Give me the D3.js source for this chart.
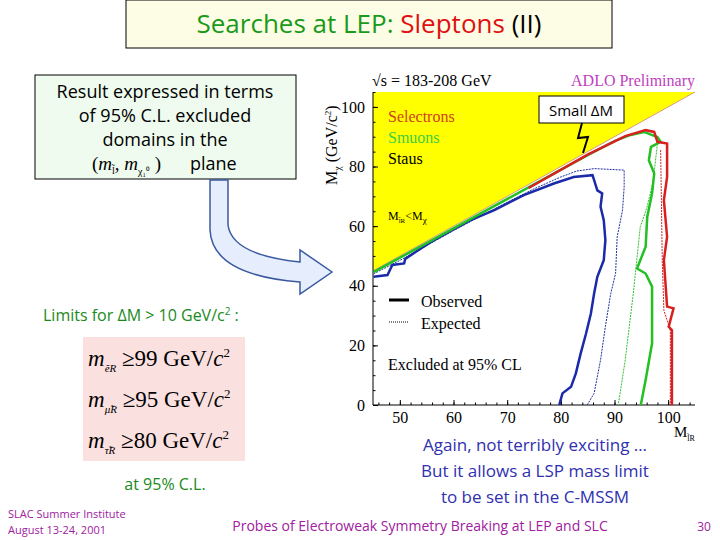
<!DOCTYPE html>
<html><head><meta charset="utf-8">
<script src="https://cdn.jsdelivr.net/npm/d3@7"></script>
<style>body{margin:0;background:#fff}svg{display:block}</style>
</head><body><svg id="c" width="720" height="540"></svg>
<script>
const xTicks=[50,60,70,80,90,100], yTicks=[0,20,40,60,80,100];
const diag=[[45,45],[105,105]];
const stauObs=[[45.1,43],[47.7,43.6],[48.6,47],[50.8,47.5],[51,49],[53,51.4],[55.8,54.7],[59.8,58.7],[63.2,62],[67.6,65.4],[73.1,70.4],[78.7,74.3],[82.4,76.5],[85.9,77.1],[86.2,75.4],[86.8,72],[87.7,71],[87.4,66.5],[88,62],[88.3,55.3],[88,48.6],[86.8,43],[86.2,37.4],[85.6,30.7],[84.7,24],[83.7,17.3],[82.8,10.6],[81.9,6.1],[80.3,3.9],[79.7,0]];
const stauExp=[[45.1,44],[50,48.5],[55,53.5],[60,58.5],[65,63.3],[70,68],[75,72.5],[80,76.5],[83,78.5],[86.2,79.3],[91.8,78.8],[91.8,73.2],[91.5,65.4],[90.5,56.4],[90.2,44.1],[89.3,37.4],[88.3,26.3],[87.4,15.1],[86.2,3.9],[84.9,0]];
const smuObs=[[45.1,44.6],[55,54.3],[65,64.2],[75,74],[85,83.8],[90,88.5],[93,90.6],[95.5,91.6],[98,89.9],[98.6,88.3],[96.8,86.6],[96.4,82.1],[97.4,77.7],[97,71],[96.1,63.1],[95.8,53.1],[94.2,45.8],[95.8,44.1],[97,39.7],[97,20.7],[95.8,8.4],[94.9,0]];
const smuExp=[[98,87.7],[97.2,75],[96,66],[94.8,59.8],[93.5,37.4],[92,15.1],[90.7,0]];
const selObs=[[74,72.8],[85,84],[92,90.2],[95.8,92.2],[97.4,91.6],[98,88.3],[99.8,87.7],[99.8,76.5],[99.2,68.7],[99.8,56.4],[99.2,48.6],[99.8,33],[101,32.4],[100.1,26.3],[100.7,25.1],[100.7,0]];
const selExp=[[98.6,85.5],[98.9,48.6],[99.2,31.8],[100.4,25.1],[100.4,0]];

const svg=d3.select("#c");
const x=d3.scaleLinear().domain([45,105]).range([373,695]);
const y=d3.scaleLinear().domain([0,105]).range([405,92]);
const line=d3.line().x(d=>x(d[0])).y(d=>y(d[1]));
const comic="'Comic Sans MS','Open Sans',sans-serif";
const serif="'Liberation Serif',serif";

svg.append("rect").attr("x",126).attr("y",0).attr("width",486).attr("height",48).attr("fill","#fdfde6").attr("stroke","#000");
const t=svg.append("text").attr("x",369).attr("y",33).attr("text-anchor","middle").attr("font-family",comic).attr("font-size",26);
t.append("tspan").attr("fill","#1a9a1a").text("Searches at LEP: ");
t.append("tspan").attr("fill","#e01010").text("Sleptons ");
t.append("tspan").attr("fill","#000").text("(II)");

svg.append("rect").attr("x",35).attr("y",75).attr("width",261).attr("height",104).attr("fill","#eefbee").attr("stroke","#000");
["Result expressed in terms","of 95% C.L. excluded","domains in the"].forEach((s,i)=>svg.append("text").attr("x",165).attr("y",98+i*24).attr("text-anchor","middle").attr("font-family",comic).attr("font-size",18).text(s));
const pl=svg.append("text").attr("x",92).attr("y",170).attr("font-family",serif).attr("font-size",19);
pl.append("tspan").text("(");pl.append("tspan").attr("font-style","italic").text("m");pl.append("tspan").attr("font-size",10).attr("dy",4).text("l̃");
pl.append("tspan").attr("dy",-4).text(", ");pl.append("tspan").attr("font-style","italic").text("m");pl.append("tspan").attr("font-size",10).attr("dy",5).text("χ₁⁰");
pl.append("tspan").attr("dy",-5).text(" )");
svg.append("text").attr("x",190).attr("y",170).attr("font-family",comic).attr("font-size",18).text("plane");

svg.append("path").attr("d","M210,180 L228,180 L228,225 Q232,255 300,262 L300,250 L332,272 L300,294 L300,282 Q212,275 210,230 Z").attr("fill","#e6edfc").attr("stroke","#3a5aa0").attr("stroke-width",1.5);

svg.append("path").attr("d",`M${x(45)},${y(45)}L${x(105)},${y(105)}L${x(45)},${y(105)}Z`).attr("fill","#ffff00");
svg.append("path").datum(diag).attr("d",line).attr("stroke","#d08080").attr("stroke-width",0.8).attr("fill","none");
svg.append("g").attr("transform","translate(0,405)").call(d3.axisBottom(x).tickValues(xTicks).tickSize(-5).tickPadding(7)).call(g=>g.select(".domain").remove()).call(g=>g.selectAll("text").attr("font-family",serif).attr("font-size",16));
svg.append("g").attr("transform","translate(373,0)").call(d3.axisLeft(y).tickValues(yTicks).tickSize(-5).tickPadding(8)).call(g=>g.select(".domain").remove()).call(g=>g.selectAll("text").attr("font-family",serif).attr("font-size",16));
svg.append("g").attr("transform","translate(373,0)").call(d3.axisLeft(y).ticks(21).tickSize(-2.5).tickFormat("")).call(g=>g.select(".domain").remove());
svg.append("g").attr("transform","translate(0,405)").call(d3.axisBottom(x).ticks(30).tickSize(-2.5).tickFormat("")).call(g=>g.select(".domain").remove());
svg.append("line").attr("x1",373).attr("x2",373).attr("y1",92).attr("y2",405).attr("stroke","#000");
svg.append("line").attr("x1",373).attr("x2",695).attr("y1",405).attr("y2",405).attr("stroke","#000");

const series=[[stauExp,"#2030a0",1,"2,1"],[smuExp,"#30c030",1,"2,1"],[selExp,"#d02020",1,"2,1"],[stauObs,"#1a2aa8",2.5,null],[smuObs,"#22c022",2.5,null],[selObs,"#d82020",2.5,null]];
series.forEach(s=>svg.append("path").datum(s[0]).attr("d",line).attr("fill","none").attr("stroke",s[1]).attr("stroke-width",s[2]).attr("stroke-dasharray",s[3]));

svg.append("text").attr("x",372).attr("y",86).attr("font-family",serif).attr("font-size",16).text("√s = 183-208 GeV");
svg.append("text").attr("x",695).attr("y",86).attr("text-anchor","end").attr("font-family",serif).attr("font-size",16).attr("fill","#c040c0").text("ADLO Preliminary");
[["Selectrons","#d04020"],["Smuons","#40d040"],["Staus","#000"]].forEach((d,i)=>svg.append("text").attr("x",388).attr("y",122+i*21).attr("font-family",serif).attr("font-size",16).attr("fill",d[1]).text(d[0]));
const ml=svg.append("text").attr("x",388).attr("y",220).attr("font-family",serif).attr("font-size",12);
ml.append("tspan").text("M");ml.append("tspan").attr("font-size",7).attr("dy",3).text("l̃R");ml.append("tspan").attr("dy",-3).text("<M");ml.append("tspan").attr("font-size",9).attr("dy",3).text("χ");
svg.append("line").attr("x1",389).attr("x2",409).attr("y1",300).attr("y2",300).attr("stroke","#000").attr("stroke-width",3);
svg.append("line").attr("x1",389).attr("x2",409).attr("y1",322).attr("y2",322).attr("stroke","#000").attr("stroke-dasharray","1,1");
svg.append("text").attr("x",421).attr("y",307).attr("font-family",serif).attr("font-size",16).text("Observed");
svg.append("text").attr("x",421).attr("y",329).attr("font-family",serif).attr("font-size",16).text("Expected");
svg.append("text").attr("x",388).attr("y",370).attr("font-family",serif).attr("font-size",16).text("Excluded at 95% CL");
const yl=svg.append("text").attr("transform","translate(337,185) rotate(-90)").attr("font-family",serif).attr("font-size",16);
yl.append("tspan").text("M");yl.append("tspan").attr("font-size",10).attr("dy",4).text("χ");yl.append("tspan").attr("dy",-4).text(" (GeV/c");yl.append("tspan").attr("font-size",9).attr("dy",-6).text("2");yl.append("tspan").attr("dy",6).text(")");
const xl=svg.append("text").attr("x",674).attr("y",437).attr("font-family",serif).attr("font-size",15);
xl.append("tspan").text("M");xl.append("tspan").attr("font-size",8).attr("dy",4).text("l̃R");

svg.append("rect").attr("x",539).attr("y",96).attr("width",85).attr("height",27).attr("fill","#fff").attr("stroke","#000");
svg.append("text").attr("x",581).attr("y",116).attr("text-anchor","middle").attr("font-family",comic).attr("font-size",15).text("Small ΔM");
svg.append("path").attr("d","M582,123 L578,138 L588,137 L583,153").attr("fill","none").attr("stroke","#000").attr("stroke-width",2);

const lim=svg.append("text").attr("x",43).attr("y",321).attr("font-family",comic).attr("font-size",16).attr("fill","#1a8a1a");
lim.append("tspan").text("Limits for ΔM > 10 GeV/c");lim.append("tspan").attr("font-size",10).attr("dy",-6).text("2");lim.append("tspan").attr("dy",6).text(" :");
svg.append("rect").attr("x",83).attr("y",337).attr("width",162).attr("height",124).attr("fill","#fbe0e0");
[["ẽ","99"],["μ̃","95"],["τ̃","80"]].forEach((d,i)=>{
 const f=svg.append("text").attr("x",88).attr("y",366+i*41).attr("font-family",serif).attr("font-size",23);
 f.append("tspan").attr("font-style","italic").text("m");f.append("tspan").attr("font-size",11).attr("font-style","italic").attr("dy",6).text(d[0]+"R");
 f.append("tspan").attr("dy",-6).text(" ≥"+d[1]+" GeV/");f.append("tspan").attr("font-style","italic").text("c");f.append("tspan").attr("font-size",13).attr("dy",-9).text("2");
});
svg.append("text").attr("x",165).attr("y",490).attr("text-anchor","middle").attr("font-family",comic).attr("font-size",16).attr("fill","#1a8a1a").text("at 95% C.L.");
["Again, not terribly exciting …","But it allows a LSP mass limit","to be set in the C-MSSM"].forEach((s,i)=>svg.append("text").attr("x",535).attr("y",451+i*26).attr("text-anchor","middle").attr("font-family",comic).attr("font-size",17).attr("fill","#3030b0").text(s));
svg.append("text").attr("x",8).attr("y",518).attr("font-family",comic).attr("font-size",11).attr("fill","#a020a0").text("SLAC Summer Institute");
svg.append("text").attr("x",8).attr("y",534).attr("font-family",comic).attr("font-size",11).attr("fill","#a020a0").text("August 13-24, 2001");
svg.append("text").attr("x",420).attr("y",531).attr("text-anchor","middle").attr("font-family",comic).attr("font-size",14).attr("fill","#a020a0").text("Probes of Electroweak Symmetry Breaking at LEP and SLC");
svg.append("text").attr("x",704).attr("y",531).attr("text-anchor","middle").attr("font-family",comic).attr("font-size",12).attr("fill","#a020a0").text("30");
</script></body></html>
